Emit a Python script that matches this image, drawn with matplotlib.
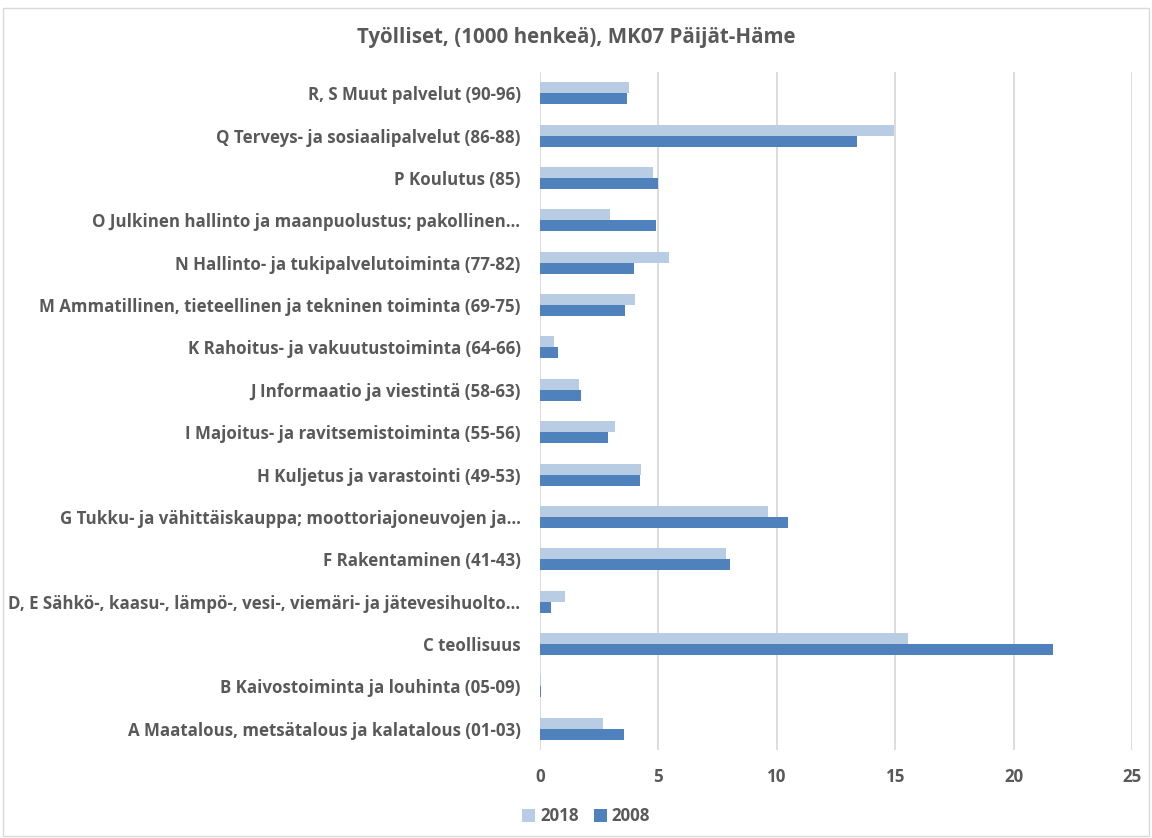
import numpy as np
import matplotlib.pyplot as plt
from matplotlib.patches import Rectangle

toimialat = [
    "A Maatalous, metsätalous ja kalatalous (01-03)",
    "B Kaivostoiminta ja louhinta (05-09)",
    "C teollisuus",
    "D, E Sähkö-, kaasu-, lämpö-, vesi-, viemäri- ja jätevesihuolto…",
    "F Rakentaminen (41-43)",
    "G Tukku- ja vähittäiskauppa; moottoriajoneuvojen ja…",
    "H Kuljetus ja varastointi (49-53)",
    "I Majoitus- ja ravitsemistoiminta (55-56)",
    "J Informaatio ja viestintä (58-63)",
    "K Rahoitus- ja vakuutustoiminta (64-66)",
    "M Ammatillinen, tieteellinen ja tekninen toiminta (69-75)",
    "N Hallinto- ja tukipalvelutoiminta (77-82)",
    "O Julkinen hallinto ja maanpuolustus; pakollinen…",
    "P Koulutus (85)",
    "Q Terveys- ja sosiaalipalvelut (86-88)",
    "R, S Muut palvelut (90-96)",
]
v2018 = [2.67, 0.03, 15.54, 1.06, 7.86, 9.62, 4.25, 3.15, 1.63, 0.58, 4.03, 5.45, 2.94, 4.77, 14.96, 3.77]
v2008 = [3.53, 0.03, 21.66, 0.48, 8.03, 10.48, 4.24, 2.86, 1.72, 0.76, 3.61, 3.99, 4.90, 5.00, 13.38, 3.69]
x_ticks = [0, 5, 10, 15, 20, 25]

harmaa = "#595959"
plt.rcParams['font.family'] = ['Open Sans', 'DejaVu Sans']
plt.rcParams['font.weight'] = 'bold'

fig = plt.figure(figsize=(11.52, 8.38), dpi=100)
ax = fig.add_axes([0.46875, 0.105, 0.5139, 0.809])

y = np.arange(len(toimialat))
h = 0.26
ax.barh(y + h / 2, v2018, height=h, color="#B8CCE4", label="2018", zorder=3)
ax.barh(y - h / 2, v2008, height=h, color="#4F81BD", label="2008", zorder=3)

ax.set_xlim(0, 25)
ax.set_ylim(-0.5, len(toimialat) - 0.5)
ax.set_xticks(x_ticks)
ax.set_yticks(y)
ax.set_yticklabels(toimialat)
ax.tick_params(axis='both', length=0, labelsize=12.2, colors=harmaa)
ax.tick_params(axis='y', pad=14)
ax.tick_params(axis='x', pad=13)
ax.grid(axis='x', color="#D9D9D9", linewidth=1.3, zorder=0)
for s in ax.spines.values():
    s.set_visible(False)

fig.suptitle("Työlliset, (1000 henkeä), MK07 Päijät-Häme", x=0.5, y=0.968,
             fontsize=14.8, fontweight='bold', color=harmaa)

leg = fig.legend(loc='center left', bbox_to_anchor=(0.44, 0.026), ncol=2, frameon=False,
                 fontsize=12.2, handlelength=0.75, handleheight=0.75, handletextpad=0.3,
                 columnspacing=0.9)
for t in leg.get_texts():
    t.set_color(harmaa)

fig.patches.append(Rectangle((0.003, 0.002), 0.994, 0.988, transform=fig.transFigure,
                             fill=False, edgecolor="#D9D9D9", linewidth=1))

fig.savefig("out.png", dpi=100)
